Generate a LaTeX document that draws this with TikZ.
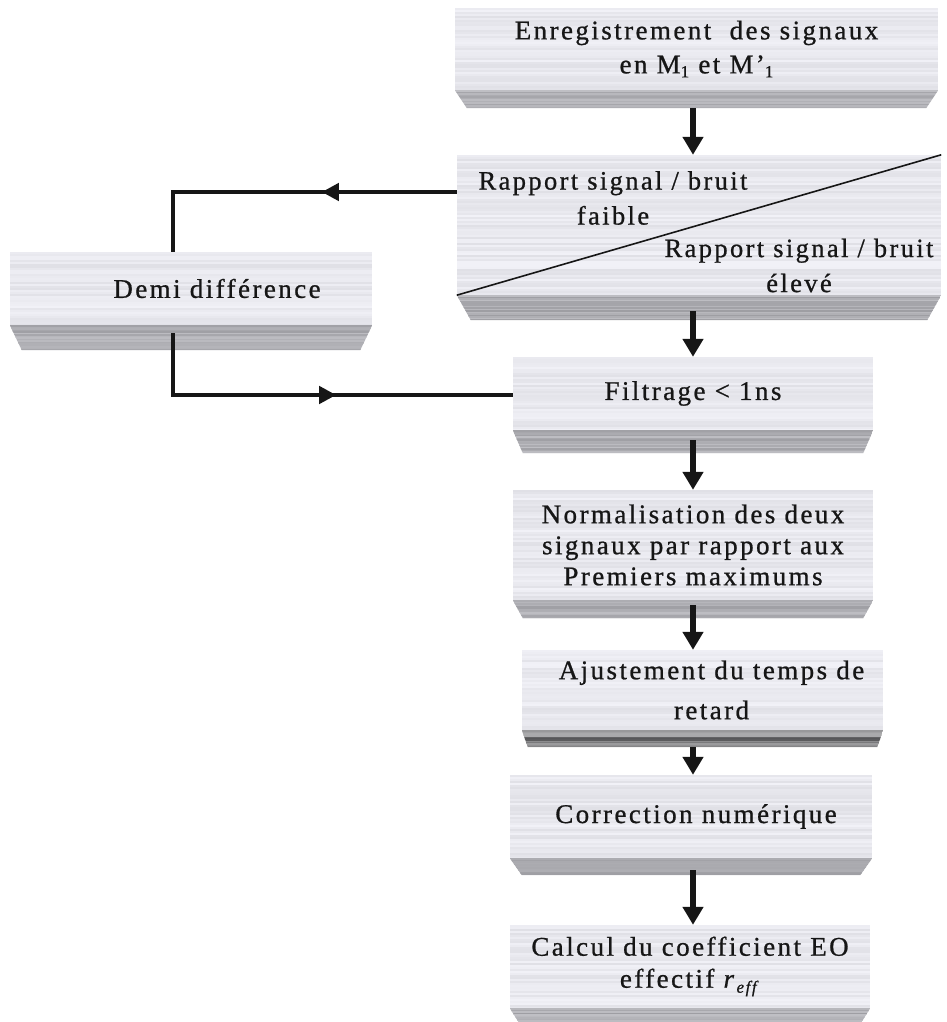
\documentclass[tikz,border=0pt]{standalone}
\usepackage{fontspec}
\setmainfont{Liberation Serif}[LetterSpace=9, FakeBold=0.8]
\usetikzlibrary{arrows.meta,decorations.markings,calc}
\definecolor{ink}{RGB}{22,22,22}
% #1 base grey, #2 random range, #3 blue tint, #4 rows, #5 row height
\newcommand\streaks[5]{%
  \foreach \k in {0,...,#4}{%
    \pgfmathtruncatemacro\gv{#1+#2*rnd}%
    \pgfmathtruncatemacro\bv{min(255,\gv+#3)}%
    \fill[fill={rgb,255:red,\gv;green,\gv;blue,\bv}]
      ($(path picture bounding box.north west)+(0,\k*#5)$) rectangle
      ($(path picture bounding box.north east)+(0,\k*#5+#5+0.3)$);
  }}
\newcommand\subone{\raisebox{-4pt}{\fontsize{17}{17}\selectfont 1}}
\tikzset{
  face/.style={rectangle, inner sep=0pt, align=center, text=ink,
    font=\fontsize{27}{32}\selectfont,
    path picture={\streaks{224}{18}{6}{75}{2}}},
  lbl/.style={inner sep=0pt, align=center, text=ink,
    font=\fontsize{26.5}{35}\selectfont},
  bevelfill/.style={path picture={\streaks{158}{34}{5}{18}{1.5}}},
  beveldark/.style={path picture={\streaks{85}{90}{2}{14}{1.3}}},
  varr/.style={line width=6pt, ink, -{Triangle[width=20pt,length=18pt]}},
  conn/.style={line width=4.5pt, ink},
  midarr/.style={postaction={decorate, decoration={markings,
    mark=at position #1 with {\arrow{Triangle[width=17pt,length=17pt]}}}}},
  split/.style={line width=1.6pt, ink}
}
\newcommand\bevel[4]{%
  \path[#4] (#1.south west) -- (#1.south east) -- ($(#1.south east)+(-#3,#2)$)
    -- ($(#1.south west)+(#3,#2)$) -- cycle;}
\begin{document}
\begin{tikzpicture}[x=1pt,y=-1pt]
\pgfmathsetseed{11}
\useasboundingbox (0,0) rectangle (946,1022);
\fill[white] (0,0) rectangle (946,1022);

% boxes
\node[face, minimum width=483, minimum height=82, font=\fontsize{27}{34}\selectfont] (enr) at (696.5,49)
  {Enregistrement\ \ des signaux\\en M\subone{} et M’\subone};
\node[face, minimum width=484, minimum height=140] (dec) at (699,225) {};
\node[face, minimum width=362, minimum height=73] (demi) at (191,288.5)
  {\hspace*{52pt}Demi différence};
\node[face, minimum width=360, minimum height=73] (filt) at (693,393.5)
  {Filtrage < 1ns};
\node[face, minimum width=360, minimum height=110, font=\fontsize{27}{31}\selectfont] (norm) at (693,545)
  {Normalisation des deux\\signaux par rapport aux\\Premiers maximums};
\node[face, minimum width=361, minimum height=80, font=\fontsize{27}{40}\selectfont] (ajust) at (702.5,690)
  {\hspace*{18pt}Ajustement du temps de\\\hspace*{18pt}retard};
\node[face, minimum width=362, minimum height=83] (corr) at (691,816.5)
  {\hspace*{10pt}Correction numérique};
\node[face, minimum width=360, minimum height=83] (calc) at (690,966.5)
  {Calcul du coefficient EO\\effectif \textit{r}\raisebox{-5pt}{\fontsize{17}{17}\selectfont\textit{eff}}};

% bevels
\bevel{enr}{18}{12}{bevelfill}
\bevel{dec}{25}{14}{bevelfill}
\bevel{demi}{25}{12}{bevelfill}
\bevel{filt}{23}{10}{bevelfill}
\bevel{norm}{18}{10}{bevelfill}
\bevel{ajust}{17}{6}{beveldark}
\bevel{corr}{17}{12}{bevelfill}
\bevel{calc}{16}{10}{bevelfill}

% decision split and labels
\draw[split] (dec.south west) -- (dec.north east);
\node[lbl] (low) at (613,198) {Rapport signal / bruit\\faible};
\node[lbl] (high) at (799,265.5) {Rapport signal / bruit\\élevé};

% vertical arrows
\coordinate (ax) at (693,0);
\draw[varr] ($(enr.south -| ax)+(0,18)$) -- (dec.north -| ax);
\draw[varr] ($(dec.south -| ax)+(0,16)$) -- (filt.north -| ax);
\draw[varr] ($(filt.south -| ax)+(0,10)$) -- (norm.north -| ax);
\draw[varr] ($(norm.south -| ax)+(0,5)$) -- (ajust.north -| ax);
\draw[varr] ($(ajust.south -| ax)+(0,17)$) -- (corr.north -| ax);
\draw[varr] ($(corr.south -| ax)+(0,12)$) -- (calc.north -| ax);

% feedback connectors
\coordinate (t1) at (173,192);
\coordinate (t2) at (173,395);
\draw[conn, midarr=135pt] (dec.west |- t1) -- (t1) -- (demi.north -| t1);
\draw[conn, midarr=225pt] ($(demi.south -| t2)+(0,8)$) -- (t2) -- (filt.west |- t2);
\end{tikzpicture}
\end{document}
